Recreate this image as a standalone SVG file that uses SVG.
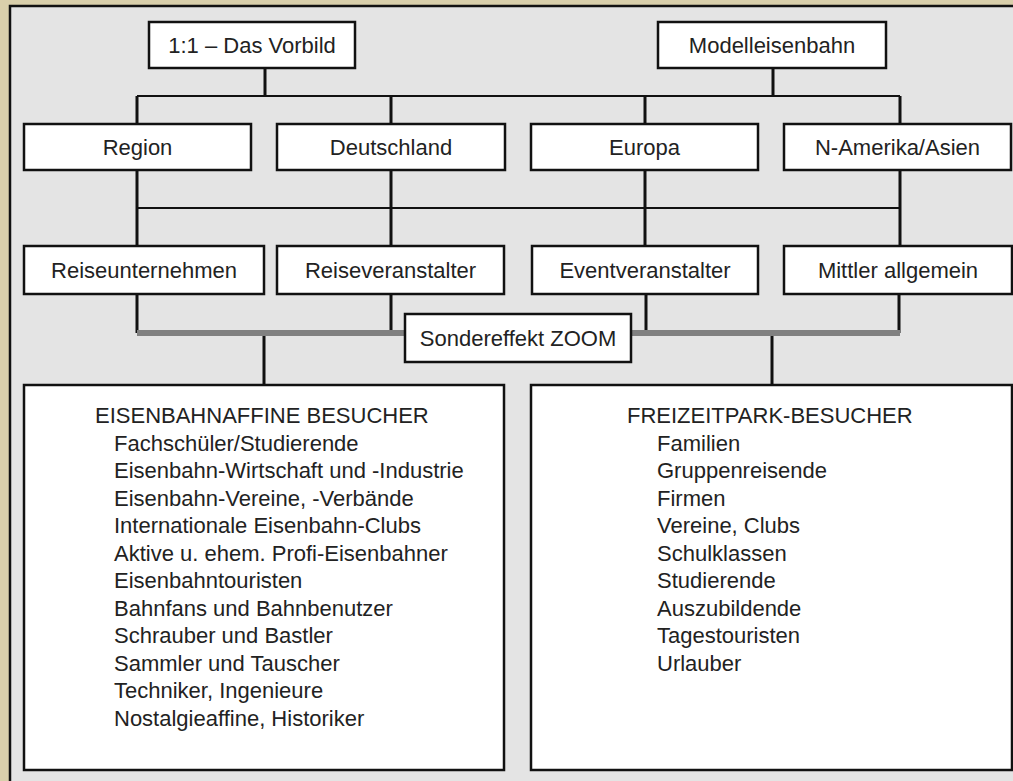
<svg xmlns="http://www.w3.org/2000/svg" width="1013" height="781" viewBox="0 0 1013 781">
<style>
.bg{fill:#d9cfab}
.panel{fill:#e4e4e4;stroke:#111;stroke-width:2.5}
.box{fill:#fff;stroke:#111;stroke-width:2.5}
.t{font-family:"Liberation Sans",Arial,sans-serif;font-size:22px;fill:#222}
.c{text-anchor:middle}
.ln{stroke:#111;fill:none}
.v{stroke-width:3}
.h{stroke-width:2}
.bar{stroke:#808080;stroke-width:6;fill:none}
</style>
<rect class="bg" x="0" y="0" width="1013" height="781"/>
<rect class="panel" x="10" y="6" width="1012" height="785"/>
<g id="connectors">
<path class="ln v" d="M265 68V96M773 68V96"/>
<path class="ln h" d="M137 96H900"/>
<path class="ln v" d="M137 96V124M391 96V124M645 96V124M900 96V124"/>
<path class="ln v" d="M137 170V246M391 170V246M645 170V246M900 170V246"/>
<path class="ln h" d="M137 208H900"/>
<path class="ln v" d="M137 294V333M391 294V333M646 294V333M899 294V333"/>
<path class="bar" d="M137 333H900"/>
<path class="ln v" d="M264 336V385M772 336V385"/>
</g>
<g id="vorbild"><rect class="box" x="149" y="22" width="206" height="46"/><text class="t c" x="252" y="53">1:1 – Das Vorbild</text></g>
<g id="modell"><rect class="box" x="658" y="22" width="228" height="46"/><text class="t c" x="772" y="53">Modelleisenbahn</text></g>
<g id="region"><rect class="box" x="24" y="124" width="227" height="46"/><text class="t c" x="137.5" y="155">Region</text></g>
<g id="deutschland"><rect class="box" x="277" y="124" width="228" height="46"/><text class="t c" x="391" y="155">Deutschland</text></g>
<g id="europa"><rect class="box" x="531" y="124" width="227" height="46"/><text class="t c" x="644.5" y="155">Europa</text></g>
<g id="namerika"><rect class="box" x="784" y="124" width="227" height="46"/><text class="t c" x="897.5" y="155">N-Amerika/Asien</text></g>
<g id="reiseunternehmen"><rect class="box" x="24" y="246" width="240" height="48"/><text class="t c" x="144" y="278">Reiseunternehmen</text></g>
<g id="reiseveranstalter"><rect class="box" x="277" y="246" width="227" height="48"/><text class="t c" x="390.5" y="278">Reiseveranstalter</text></g>
<g id="eventveranstalter"><rect class="box" x="532" y="246" width="226" height="48"/><text class="t c" x="645" y="278">Eventveranstalter</text></g>
<g id="mittler"><rect class="box" x="784" y="246" width="228" height="48"/><text class="t c" x="898" y="278">Mittler allgemein</text></g>
<g id="sondereffekt"><rect class="box" x="405" y="314" width="226" height="48"/><text class="t c" x="518" y="346">Sondereffekt ZOOM</text></g>
<g id="eisenbahnaffine">
<rect class="box" x="24" y="385" width="480" height="385"/>
<text class="t" x="95" y="423">EISENBAHNAFFINE BESUCHER</text>
<text class="t" x="114" y="450.5">Fachschüler/Studierende</text>
<text class="t" x="114" y="478">Eisenbahn-Wirtschaft und -Industrie</text>
<text class="t" x="114" y="505.5">Eisenbahn-Vereine, -Verbände</text>
<text class="t" x="114" y="533">Internationale Eisenbahn-Clubs</text>
<text class="t" x="114" y="560.5">Aktive u. ehem. Profi-Eisenbahner</text>
<text class="t" x="114" y="588">Eisenbahntouristen</text>
<text class="t" x="114" y="615.5">Bahnfans und Bahnbenutzer</text>
<text class="t" x="114" y="643">Schrauber und Bastler</text>
<text class="t" x="114" y="670.5">Sammler und Tauscher</text>
<text class="t" x="114" y="698">Techniker, Ingenieure</text>
<text class="t" x="114" y="725.5">Nostalgieaffine, Historiker</text>
</g>
<g id="freizeitpark">
<rect class="box" x="531" y="385" width="481" height="385"/>
<text class="t" x="627" y="423">FREIZEITPARK-BESUCHER</text>
<text class="t" x="657" y="450.5">Familien</text>
<text class="t" x="657" y="478">Gruppenreisende</text>
<text class="t" x="657" y="505.5">Firmen</text>
<text class="t" x="657" y="533">Vereine, Clubs</text>
<text class="t" x="657" y="560.5">Schulklassen</text>
<text class="t" x="657" y="588">Studierende</text>
<text class="t" x="657" y="615.5">Auszubildende</text>
<text class="t" x="657" y="643">Tagestouristen</text>
<text class="t" x="657" y="670.5">Urlauber</text>
</g>
</svg>
